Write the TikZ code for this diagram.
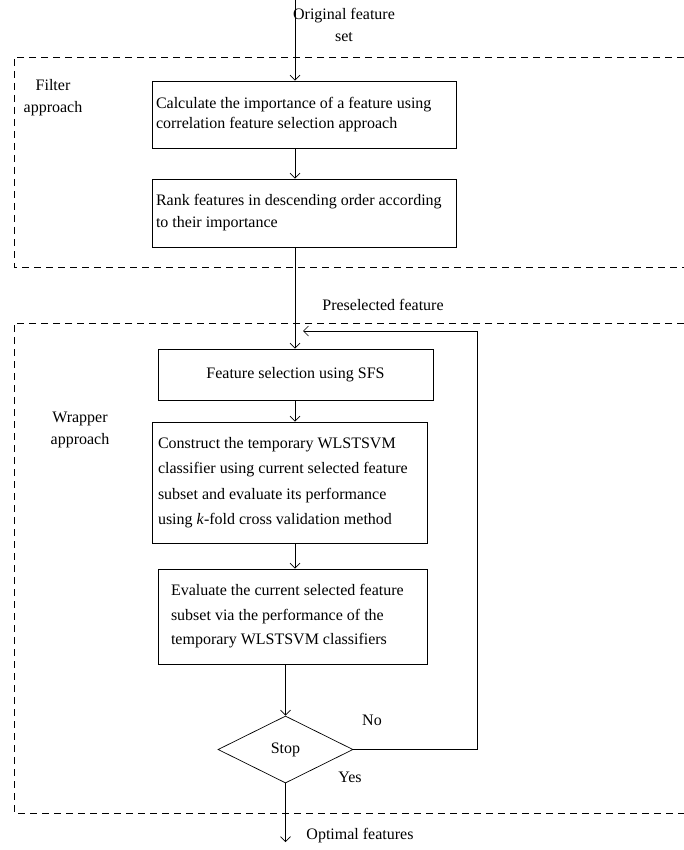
\documentclass[tikz,border=0pt]{standalone}
\usepackage{fontspec}
\setmainfont{Liberation Serif}
\usetikzlibrary{arrows.meta}
\usetikzlibrary{calc}
\usetikzlibrary{shapes.geometric}
\tikzset{>={Straight Barb[length=5pt,width=10pt]}}
\tikzstyle{process} = [rectangle, draw=black, line width=0.7pt, align=flush left, inner ysep=0pt, font=\fontsize{16}{22}\selectfont]
\tikzstyle{decision} = [diamond, aspect=2, draw=black, line width=0.7pt, minimum width=135pt, minimum height=67pt, inner sep=0pt, font=\fontsize{16}{22}\selectfont]
\tikzstyle{arrow} = [line width=0.7pt,->]
\tikzstyle{region} = [line width=0.7pt, dash pattern=on 7pt off 5pt]
\tikzstyle{txt} = [align=center, inner sep=0pt, font=\fontsize{16}{22}\selectfont]

\begin{document}
\begin{tikzpicture}[x=1pt,y=1pt]
\useasboundingbox (0,0) rectangle (684,-850);
% dashed regions
\draw [region] (684,-57) -| (14,-267) -- (684,-267);
\draw [region] (684,-323) -| (14,-813) -- (684,-813);
\node (filt) [txt] at (53,-98) {Filter\\approach};
\node (wrap) [txt] at (80,-430) {Wrapper\\approach};
% steps
\node (orig) [txt] at (344,-25) {Original feature\\set};
\coordinate (src) at (295,0);
\node (calc) [process, text width=296pt, inner xsep=4pt, minimum height=67pt, font=\fontsize{16}{20}\selectfont] at (304,-114.5) {Calculate the importance of a feature using\\correlation feature selection approach};
\node (rank) [process, text width=296pt, inner xsep=4pt, minimum height=68pt, node distance=98.5pt, below of=calc] {Rank features in descending order according\\to their importance};
\node (sfs) [process, align=flush center, text width=267pt, inner xsep=4pt, minimum height=51pt, node distance=161.5pt, below of=rank, xshift=-8.5pt] {Feature selection using SFS};
\node (build) [process, text width=263pt, inner xsep=6pt, minimum height=121pt, font=\fontsize{16}{25.5}\selectfont, node distance=108pt, below of=sfs, xshift=-6pt] {Construct the temporary WLSTSVM\\classifier using current selected feature\\subset and evaluate its performance\\using \textit{k}-fold cross validation method};
\node (eval) [process, text width=243pt, inner xsep=13pt, minimum height=95pt, font=\fontsize{16}{24.5}\selectfont, node distance=134pt, below of=build, xshift=3pt] {Evaluate the current selected feature\\subset via the performance of the\\temporary WLSTSVM classifiers};
\node (stop) [decision, node distance=133pt, below of=eval, xshift=-7pt] {Stop};
% connectors
\draw [arrow] (src) -- (src |- calc.north);
\draw [arrow] (calc.south -| src) -- (rank.north -| src);
\draw [arrow] (rank.south -| src) -- (sfs.north -| src);
\draw [arrow] (sfs.south -| src) -- (build.north -| src);
\draw [arrow] (build.south -| src) -- (eval.north -| src);
\draw [arrow] (eval.south -| stop) -- (stop.north);
\coordinate (back) at (303,-331);
\coordinate (turn) at (477,-331);
\draw [arrow] (stop.east) -| (turn) -- (back);
\coordinate (sink) at (285.5,-842);
\draw [arrow] (stop.south) -- (sink);
% labels
\node (pre) [txt] at (383,-305) {Preselected feature};
\node (no) [txt] at (372,-720) {No};
\node (yes) [txt] at (350,-777) {Yes};
\node (opt) [txt] at (360,-836) {Optimal features};
\end{tikzpicture}
\end{document}
